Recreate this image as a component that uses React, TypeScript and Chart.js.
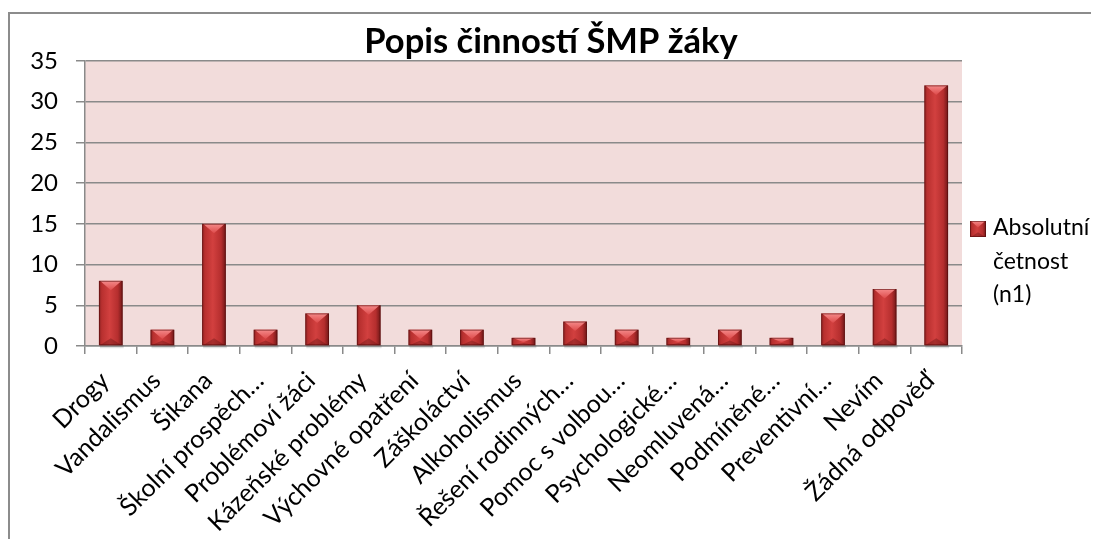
import React, { useEffect, useRef } from "react";
import { Chart, registerables } from "chart.js";

Chart.register(...registerables);

const categories: string[] = [
  "Drogy",
  "Vandalismus",
  "Šikana",
  "Školní prospěch…",
  "Problémoví žáci",
  "Kázeňské problémy",
  "Výchovné opatření",
  "Záškoláctví",
  "Alkoholismus",
  "Řešení rodinných…",
  "Pomoc s volbou…",
  "Psychologické…",
  "Neomluvená…",
  "Podmíněné…",
  "Preventivní…",
  "Nevím",
  "Žádná odpověď",
];

const absolutniCetnost: number[] = [8, 2, 15, 2, 4, 5, 2, 2, 1, 3, 2, 1, 2, 1, 4, 7, 32];

const yTicks: number[] = [0, 5, 10, 15, 20, 25, 30, 35];

const titleText = "Popis činností ŠMP žáky";
const legendLines: string[] = ["Absolutní", "četnost", "(n1)"];

const FONT = "Lato, 'Open Sans', 'DejaVu Sans', sans-serif";
const GRID = "#8a8a8a";

function drawBevelBar(
  ctx: CanvasRenderingContext2D,
  left: number,
  top: number,
  right: number,
  bottom: number
) {
  const w = right - left;
  const h = bottom - top;
  if (h <= 0 || w <= 0) return;
  const cx = (left + right) / 2;
  const g = ctx.createLinearGradient(left, 0, right, 0);
  g.addColorStop(0, "#8c2222");
  g.addColorStop(0.12, "#b8302f");
  g.addColorStop(0.45, "#d2403f");
  g.addColorStop(0.8, "#b52e2e");
  g.addColorStop(1, "#6e1717");
  ctx.fillStyle = g;
  ctx.fillRect(left, top, w, h);
  const th = Math.min(w * 0.4, h * 0.6);
  const tg = ctx.createLinearGradient(0, top, 0, top + th);
  tg.addColorStop(0, "#f58a8a");
  tg.addColorStop(1, "#dd4a4a");
  ctx.fillStyle = tg;
  ctx.beginPath();
  ctx.moveTo(left + 1, top);
  ctx.lineTo(right - 1, top);
  ctx.lineTo(cx, top + th);
  ctx.closePath();
  ctx.fill();
  const bh = Math.min(w * 0.3, h * 0.3);
  ctx.fillStyle = "rgba(90,15,15,0.35)";
  ctx.beginPath();
  ctx.moveTo(left + 1, bottom);
  ctx.lineTo(right - 1, bottom);
  ctx.lineTo(cx, bottom - bh);
  ctx.closePath();
  ctx.fill();
  ctx.strokeStyle = "rgba(80,10,10,0.55)";
  ctx.lineWidth = 1;
  ctx.strokeRect(left + 0.5, top + 0.5, w - 1, h - 1);
}

const decorPlugin = {
  id: "decor",
  beforeDraw(chart: any) {
    const { ctx, chartArea, width, height } = chart;
    ctx.save();
    ctx.fillStyle = "#ffffff";
    ctx.fillRect(0, 0, width, height);
    ctx.strokeStyle = "#8c8c8c";
    ctx.lineWidth = 2;
    ctx.beginPath();
    ctx.moveTo(1, height);
    ctx.lineTo(1, 5);
    ctx.lineTo(width, 5);
    ctx.stroke();
    ctx.fillStyle = "#f2dcdb";
    ctx.fillRect(
      chartArea.left,
      chartArea.top,
      chartArea.right - chartArea.left,
      chartArea.bottom - chartArea.top
    );
    ctx.restore();
  },
  afterDatasetsDraw(chart: any) {
    const { ctx } = chart;
    const meta = chart.getDatasetMeta(0);
    ctx.save();
    meta.data.forEach((el: any) => {
      const p = el.getProps(["x", "y", "base", "width"], true);
      const left = p.x - p.width / 2;
      const right = p.x + p.width / 2;
      ctx.fillStyle = "rgba(0,0,0,0.12)";
      ctx.fillRect(left + 1, p.base, p.width, 3);
      drawBevelBar(ctx, left, p.y, right, p.base);
    });
    ctx.restore();
  },
  afterDraw(chart: any) {
    const { ctx, chartArea } = chart;
    ctx.save();
    ctx.fillStyle = "#000000";
    ctx.font = `bold 34.5px ${FONT}`;
    ctx.textAlign = "center";
    ctx.textBaseline = "alphabetic";
    ctx.fillText(titleText, 543, 45);
    const sx = chartArea.right + 8;
    const sy = 213;
    drawBevelBar(ctx, sx, sy, sx + 16, sy + 16);
    ctx.fillStyle = "#000000";
    ctx.font = `23px ${FONT}`;
    ctx.textAlign = "left";
    ctx.textBaseline = "middle";
    legendLines.forEach((line, i) => {
      ctx.fillText(line, sx + 23, 220 + i * 33.5);
    });
    ctx.restore();
  },
};

export default function App() {
  const canvasRef = useRef<HTMLCanvasElement | null>(null);

  useEffect(() => {
    if (!canvasRef.current) return;
    const chart = new Chart(canvasRef.current, {
      type: "bar",
      data: {
        labels: categories,
        datasets: [
          {
            label: legendLines.join(" "),
            data: absolutniCetnost,
            backgroundColor: "rgba(0,0,0,0)",
            borderWidth: 0,
            barPercentage: 0.46,
            categoryPercentage: 1,
          },
        ],
      },
      options: {
        animation: false,
        responsive: false,
        maintainAspectRatio: false,
        layout: { padding: { left: 0, top: 53, right: 137, bottom: 0 } },
        plugins: {
          legend: { display: false },
          title: { display: false },
          tooltip: { enabled: false },
        },
        scales: {
          x: {
            offset: true,
            grid: {
              offset: true,
              drawOnChartArea: false,
              drawTicks: true,
              tickLength: 8,
              color: GRID,
              lineWidth: 1.5,
            },
            border: { display: true, color: GRID, width: 1.5 },
            ticks: {
              autoSkip: false,
              maxRotation: 45,
              minRotation: 45,
              padding: 12,
              labelOffset: -6,
              color: "#000000",
              font: { family: FONT, size: 25 },
            },
            afterFit(scale: any) {
              scale.height = 193;
            },
          },
          y: {
            min: 0,
            max: 35,
            afterBuildTicks(scale: any) {
              scale.ticks = yTicks.map((v) => ({ value: v }));
            },
            grid: {
              color: GRID,
              lineWidth: 1.5,
              tickLength: 9,
              drawTicks: true,
            },
            border: { display: true, color: GRID, width: 1.5 },
            ticks: {
              padding: 18,
              color: "#000000",
              font: { family: FONT, size: 24 },
            },
            afterFit(scale: any) {
              scale.width = 77;
            },
          },
        },
      },
      plugins: [decorPlugin],
    });
    return () => chart.destroy();
  }, []);

  return (
    <div style={{ width: 1091, height: 531 }}>
      <canvas ref={canvasRef} width={1091} height={531} style={{ display: "block" }} />
    </div>
  );
}
